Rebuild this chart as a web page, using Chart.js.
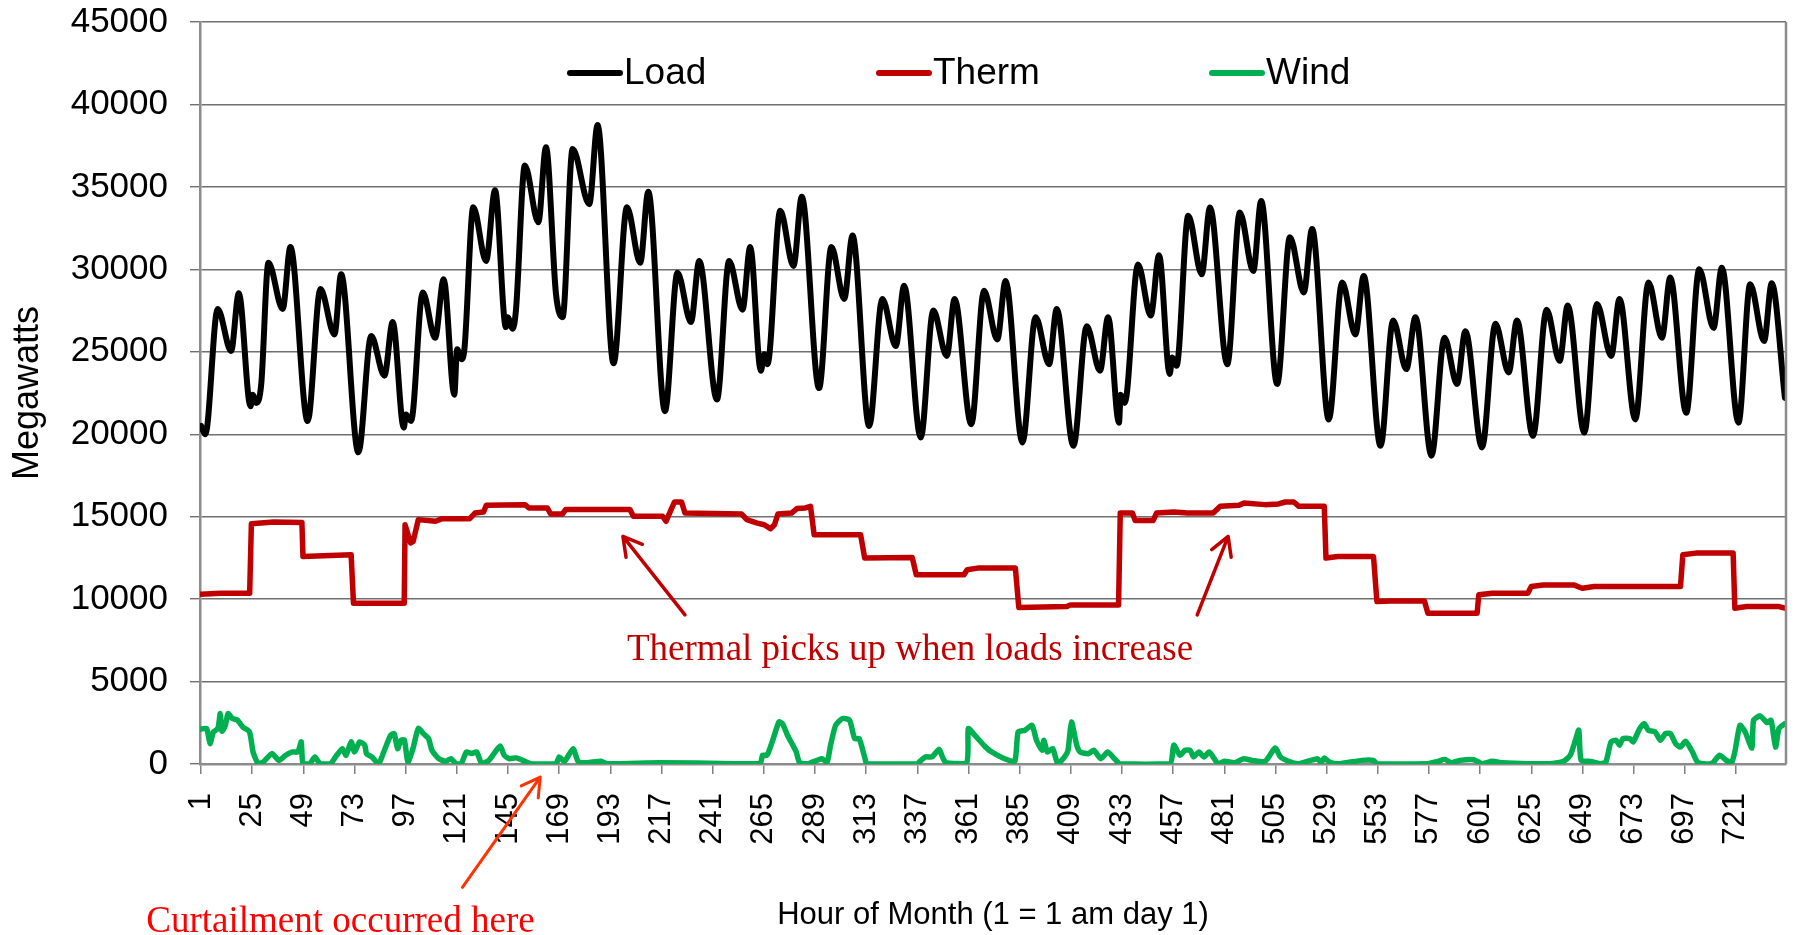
<!DOCTYPE html>
<html>
<head>
<meta charset="utf-8">
<title>Load, Therm and Wind by hour of month</title>
<script src="https://cdn.jsdelivr.net/npm/chart.js@4.4.1/dist/chart.umd.min.js"></script>
<style>
    html, body { margin: 0; padding: 0; background: #ffffff; }
    #wrap { width: 1797px; height: 935px; position: relative; }
</style>
</head>
<body>
<div id="wrap"><canvas id="lineChart"></canvas></div>
<script>
// tick labels on the hour axis (one per day)
var xTickLabels = [1, 25, 49, 73, 97, 121, 145, 169, 193, 217, 241, 265, 289, 313, 337, 361,
    385, 409, 433, 457, 481, 505, 529, 553, 577, 601, 625, 649, 673, 697, 721];

// Load - troughs, morning peaks, midday dips and evening peaks
var loadHour = [1, 3, 8.8, 15.1, 18.7,
    24.2, 25.3, 26.8, 29.2, 32.6, 39.3, 42.9,
    51, 57, 63.6, 66.7,
    74.8, 80.8, 87, 90.9,
    96.1, 97.1, 99.5, 105, 110.8, 114.8,
    119.8, 121.1, 123.3, 124.6, 128.7, 134.7, 138.9,
    144, 144.8, 147.2, 148.7, 152.9, 159.2, 162.8,
    167.5, 170.6, 175.3, 183.1, 187,
    194.5, 200.8, 207, 210.8,
    218.6, 224.5, 230.8, 234.7,
    243, 248.7, 255, 258.6,
    263.6, 265.2, 266.7, 272.7, 278.9, 282.8,
    290.9, 296.7, 302.7, 306.6,
    314.4, 320.6, 326.9, 330.8,
    338.6, 344.5, 350.8, 354.5,
    362.3, 368.3, 374.5, 378.4,
    386.3, 392.5, 398.8, 402.4,
    410.2, 416.5, 422.7, 426.5,
    431.6, 432.4, 434.3, 440.5, 446.5, 450.4,
    455.4, 456.6, 458.6, 464.1, 470.4, 474.3,
    482.4, 488.3, 494.6, 498.3,
    505.8, 511.8, 518.3, 522.2,
    530, 536.3, 542.5, 546.4,
    554.3, 560.2, 566.4, 570.7,
    578.2, 584.3, 590.2, 594.1,
    601.9, 608.2, 614.4, 618.3,
    625.8, 632.2, 638.3, 642.1,
    649.9, 655.8, 662.5, 666.4,
    673.8, 680, 686.3, 690.2,
    697.7, 703.8, 710.5, 714.4,
    722.2, 727.7, 734.2, 737.8, 744];
var loadMW = [20500, 20000, 27600, 25050, 28550,
    21700, 22400, 21900, 23000, 30400, 27600, 31350,
    20800, 28800, 26050, 29700,
    18900, 25950, 23550, 26800,
    20400, 21200, 20800, 28600, 25850, 29400,
    22400, 25150, 24550, 25250, 33770, 30500, 34800,
    26500, 27100, 26400, 27500, 36300, 32850, 37400,
    28500, 27100, 37300, 33950, 38750,
    24300, 33770, 30400, 34700,
    21400, 29800, 26800, 30500,
    22100, 30500, 27550, 31350,
    23850, 24850, 24250, 33550, 30200, 34400,
    22800, 31350, 28200, 32050,
    20500, 28200, 25350, 29000,
    19800, 27500, 24750, 28200,
    20600, 28700, 25750, 29300,
    19500, 27100, 24250, 27600,
    19300, 26550, 23850, 27100,
    20700, 22400, 21900, 30300, 27200, 30850,
    23650, 24650, 24150, 33250, 29700, 33750,
    24250, 33450, 29900, 34150,
    23050, 31950, 28600, 32450,
    20900, 29200, 26050, 29600,
    19300, 26900, 23950, 27100,
    18700, 25850, 23050, 26250,
    19200, 26700, 23750, 26900,
    19900, 27550, 24450, 27800,
    20100, 27900, 24750, 28200,
    20900, 29200, 25850, 29500,
    21300, 30000, 26450, 30100,
    20700, 29100, 25650, 29150, 22200];

// Therm - the step levels and where they change
var thermHour = [1, 10, 23.8, 24.6, 35, 48.3, 48.8, 71.4, 72.5, 96.3, 96.7, 99.3, 100.5, 102.9,
    111, 114.2, 127, 129.5, 133.5, 134.8, 152.9, 154.8, 163.4, 165, 170.5, 172, 202.2, 203.8,
    217.5, 219.1, 221.5, 223.1, 226.4, 228, 254.6, 257, 261.9, 265.2, 268.1, 270, 271.6, 278,
    280.5, 284.5, 286.9, 288.6, 310.4, 312.3, 334.6, 336.5, 358.8, 360.4, 365.3, 383, 384.6,
    407.2, 408.8, 431.4, 432.2, 437.9, 439.2, 447.6, 449.2, 457.3, 463.7, 475.8, 479.1, 487.9,
    490.3, 500.1, 506.5, 509.6, 513.6, 516, 527.9, 528.7, 534.3, 551, 552.6, 559, 574.9, 576.5,
    599.6, 600.4, 606.7, 623.4, 625, 630.6, 644.9, 648.9, 654.5, 695, 696.1, 702.2, 719.7,
    720.5, 726.1, 741.2, 744];
var thermMW = [10300, 10360, 10360, 14570, 14670, 14650, 12590, 12690, 9750, 9750, 14510, 13400, 13500, 14820,
    14720, 14880, 14880, 15220, 15280, 15690, 15730, 15530, 15530, 15160, 15160, 15430, 15430, 15020,
    15020, 14720, 15430, 15890, 15890, 15220, 15160, 14820, 14610, 14510, 14270, 14510, 15160, 15220,
    15490, 15530, 15630, 13900, 13900, 12490, 12530, 11470, 11470, 11780, 11880, 11880, 9490,
    9550, 9650, 9650, 15220, 15220, 14760, 14760, 15220, 15280, 15220, 15220, 15630, 15690,
    15830, 15730, 15770, 15890, 15890, 15630, 15630, 12490, 12590, 12590, 9850, 9890, 9890, 9140,
    9140, 10260, 10360, 10360, 10760, 10860, 10860, 10660, 10760, 10760, 12690, 12790, 12790,
    9450, 9550, 9550, 9450];

// Wind
var windHour = [0.7, 3.6, 5.2, 6.8, 8.9, 10, 10.8, 12.4, 13.7, 15.7, 18.1, 20.5, 23.7, 25.4, 27.8,
    30.2, 34.2, 37.5, 40.7, 43.9, 46.4, 48, 48.8, 52, 54.4, 56.8, 61.7, 64.1, 67.3, 69, 71.4, 73,
    75.4, 77.8, 78.6, 81.1, 84.3, 86.7, 89.9, 91.6, 93.2, 94.8, 96.4, 98, 100.4, 102.9, 105.3,
    107.7, 109.3, 112.5, 115.8, 118.2, 120.6, 123, 125.5, 127.9, 130.3, 132.7, 136, 138.4, 141.3,
    143.2, 145.6, 148.9, 152.9, 156.1, 167.4, 169, 171.5, 175.5, 177.9, 182, 188.4, 191.7, 215.9,
    251, 263.2, 264.4, 266.5, 268.9, 272.1, 273.7, 276.1, 278.6, 280.2, 281.8, 285.8, 289.9,
    292.3, 294.7, 296.3, 298.7, 301.9, 305.2, 307.6, 309.7, 312.5, 313.3, 336.7, 340.7, 343.9,
    347.2, 348.8, 350.4, 360.1, 360.9, 363.3, 368.2, 371.4, 377.9, 382.7, 384.3, 387.5, 390.8,
    392.9, 395.6, 396.4, 398, 400.5, 402.9, 406.1, 407.7, 409.3, 411.8, 413.4, 417.4, 419.8,
    423.1, 426.3, 429.5, 432, 455.4, 457.3, 460.2, 462.6, 465, 466.6, 469.1, 471.5, 473.9, 476.3,
    478, 481.2, 486, 490, 494.1, 500.1, 504.9, 507.3, 511.2, 516, 524.8, 526.4, 527.9, 530.3,
    535.1, 545.5, 551, 552.6, 576.5, 581.3, 584.4, 587.6, 591.6, 598, 602, 606.7, 611.5, 624.2,
    633.8, 640.1, 643.3, 645.7, 647.3, 648.4, 652.9, 657.6, 660, 662.4, 664.8, 666.4, 668, 671.2,
    672.8, 674.4, 675.9, 678, 679.9, 683.1, 685.5, 687.9, 690.3, 692.7, 695, 697.4, 700.6, 703,
    707, 710.2, 713.3, 716.5, 718.9, 720.5, 722.9, 725.3, 728.5, 729.3, 732.4, 735.6, 737.5,
    739.6, 741.2, 744];
var windMW = [2110, 2150, 1240, 1950, 2150, 3060, 1990, 2350, 3060, 2760, 2660, 2250, 1950, 730, 20,
    120, 630, 220, 530, 730, 730, 1340, 20, 20, 430, 20, 20, 430, 930, 530, 1340, 730,
    1340, 1140, 630, 430, 20, 730, 1740, 1840, 930, 1440, 1440, 120, 930, 2150, 1840,
    1540, 830, 320, 160, 320, 20, 20, 730, 630, 730, 20, 220, 630, 1090,
    530, 320, 370, 160, 0, 0, 430, 160, 930, 160, 80, 160, 20, 80,
    20, 20, 530, 530, 1340, 2550, 2450, 1740, 1140, 730, 80, 20, 220,
    320, 120, 1140, 2350, 2760, 2660, 1540, 1540, 320, 20, 20, 430, 430,
    890, 430, 80, 50, 2150, 1840, 1140, 770, 320, 160, 1950, 2050, 2350,
    1440, 830, 1440, 730, 930, 20, 430, 830, 2550, 1140, 730, 630, 830,
    320, 730, 320, 20, 20, 1140, 530, 830, 830, 430, 730, 430, 730, 320,
    20, 160, 80, 320, 220, 160, 970, 430, 160, 20, 320, 80, 370, 120,
    20, 220, 220, 20, 20, 160, 280, 80, 220, 260, 20, 160, 80, 20,
    20, 160, 530, 1440, 2050, 220, 160, 20, 120, 1340, 1440, 1140, 1540, 1540,
    1340, 1740, 2150, 2450, 2050, 1950, 1440, 1840, 1840, 1240, 1030, 1380, 730, 120,
    0, 80, 530, 220, 80, 730, 2350, 1950, 970, 2650, 2920, 2510, 2650,
    1030, 2150, 2450];

function toPoints(hours, values) {
    return hours.map(function (h, i) { return { x: h, y: values[i] }; });
}

// arrow with an open head, pixel coordinates
function drawArrow(ctx, x1, y1, x2, y2, color, width) {
    var ang = Math.atan2(y2 - y1, x2 - x1);
    var head = 21;
    ctx.strokeStyle = color;
    ctx.lineWidth = width;
    ctx.lineCap = 'round';
    ctx.lineJoin = 'round';
    ctx.beginPath();
    ctx.moveTo(x1, y1);
    ctx.lineTo(x2, y2);
    ctx.moveTo(x2 - head * Math.cos(ang - 0.52), y2 - head * Math.sin(ang - 0.52));
    ctx.lineTo(x2, y2);
    ctx.lineTo(x2 - head * Math.cos(ang + 0.52), y2 - head * Math.sin(ang + 0.52));
    ctx.stroke();
}

// legend sits inside the plot, under the top gridline
var insideLegend = {
    id: 'insideLegend',
    afterDraw: function (chart) {
        var ctx = chart.ctx;
        var area = chart.chartArea;
        var starts = [370, 679, 1012];
        var y = area.top + 51;
        ctx.save();
        ctx.font = '37px "Liberation Sans", Arial, sans-serif';
        ctx.textBaseline = 'middle';
        ctx.fillStyle = '#000000';
        chart.data.datasets.forEach(function (ds, i) {
            var x0 = area.left + starts[i];
            ctx.beginPath();
            ctx.lineWidth = 6;
            ctx.lineCap = 'round';
            ctx.strokeStyle = ds.borderColor;
            ctx.moveTo(x0, y);
            ctx.lineTo(x0 + 50, y);
            ctx.stroke();
            ctx.fillText(ds.label, x0 + 54, y + 1);
        });
        ctx.restore();
    }
};

// notes and arrows, anchored in hour / megawatt space
var notes = {
    id: 'notes',
    afterDraw: function (chart) {
        var ctx = chart.ctx;
        var xs = chart.scales.x, ys = chart.scales.y;
        var area = chart.chartArea;
        function px(h) { return xs.getPixelForValue(h); }
        function py(v) { return ys.getPixelForValue(v); }
        ctx.save();
        // right border of the plot area
        ctx.strokeStyle = '#8c8c8c';
        ctx.lineWidth = 2.5;
        ctx.beginPath();
        ctx.moveTo(area.right, area.top);
        ctx.lineTo(area.right, area.bottom);
        ctx.stroke();

        drawArrow(ctx, px(228), py(9040), px(198.9), py(13800), '#C00000', 3.5);
        drawArrow(ctx, px(468.3), py(9040), px(482.8), py(13800), '#C00000', 3.5);
        ctx.font = '37px "Liberation Serif", "Times New Roman", serif';
        ctx.textAlign = 'center';
        ctx.textBaseline = 'middle';
        ctx.fillStyle = '#C00000';
        ctx.fillText('Thermal picks up when loads increase', px(333.6), py(6880));

        drawArrow(ctx, px(123.6), py(-7480), px(160.1), py(-790), '#FF3300', 3);
        ctx.fillStyle = '#FF0000';
        ctx.fillText('Curtailment occurred here', px(66.4), py(-9610));
        ctx.restore();
    }
};

Chart.defaults.font.family = '"Liberation Sans", Arial, sans-serif';
Chart.defaults.color = '#000000';

var chartDiv = document.getElementById('lineChart');
var myChart = new Chart(chartDiv, {
    type: 'line',
    data: {
        datasets: [
            {
                label: 'Load',
                data: toPoints(loadHour, loadMW),
                borderColor: '#000000',
                backgroundColor: '#000000',
                borderWidth: 6,
                cubicInterpolationMode: 'monotone',
                pointRadius: 0,
                borderJoinStyle: 'round',
                borderCapStyle: 'round'
            },
            {
                label: 'Therm',
                data: toPoints(thermHour, thermMW),
                borderColor: '#C00000',
                backgroundColor: '#C00000',
                borderWidth: 5.5,
                tension: 0,
                pointRadius: 0,
                borderJoinStyle: 'round',
                borderCapStyle: 'round'
            },
            {
                label: 'Wind',
                data: toPoints(windHour, windMW),
                borderColor: '#00B050',
                backgroundColor: '#00B050',
                borderWidth: 5.5,
                tension: 0.2,
                pointRadius: 0,
                borderJoinStyle: 'round',
                borderCapStyle: 'round'
            }
        ]
    },
    options: {
        responsive: true,
        maintainAspectRatio: false,
        animation: false,
        layout: { padding: { top: 22, right: 11, left: 0, bottom: 0 } },
        plugins: {
            legend: { display: false },
            tooltip: { enabled: false }
        },
        scales: {
            x: {
                type: 'linear',
                bounds: 'data',
                min: 0.5,
                max: 744.5,
                afterBuildTicks: function (scale) {
                    scale.ticks = xTickLabels.map(function (v) { return { value: v }; });
                },
                afterFit: function (scale) {
                    scale.height = 171;
                    scale.paddingTop = 0;
                    scale.paddingBottom = 0;
                },
                ticks: {
                    autoSkip: false,
                    minRotation: 90,
                    maxRotation: 90,
                    padding: 19,
                    font: { size: 31 },
                    callback: function (value) { return String(value); }
                },
                grid: {
                    drawOnChartArea: false,
                    drawTicks: true,
                    tickLength: 10,
                    color: '#808080',
                    lineWidth: 1.5
                },
                border: { color: '#8c8c8c', width: 2.5 },
                title: {
                    display: true,
                    text: 'Hour of Month (1 = 1 am day 1)',
                    font: { size: 31 },
                    padding: { top: 0, bottom: 1 }
                }
            },
            y: {
                min: 0,
                max: 45000,
                afterFit: function (scale) {
                    scale.width = 200;
                    scale.paddingTop = 0;
                    scale.paddingBottom = 0;
                },
                ticks: {
                    stepSize: 5000,
                    padding: 22,
                    font: { size: 35 },
                    callback: function (value) { return String(value); }
                },
                grid: {
                    color: '#707070',
                    lineWidth: 1.4,
                    tickLength: 10
                },
                border: { color: '#8c8c8c', width: 2.5 },
                title: {
                    display: true,
                    text: 'Megawatts',
                    font: { size: 36 },
                    padding: { top: 6, bottom: 0 }
                }
            }
        }
    },
    plugins: [insideLegend, notes]
});
</script>
</body>
</html>
